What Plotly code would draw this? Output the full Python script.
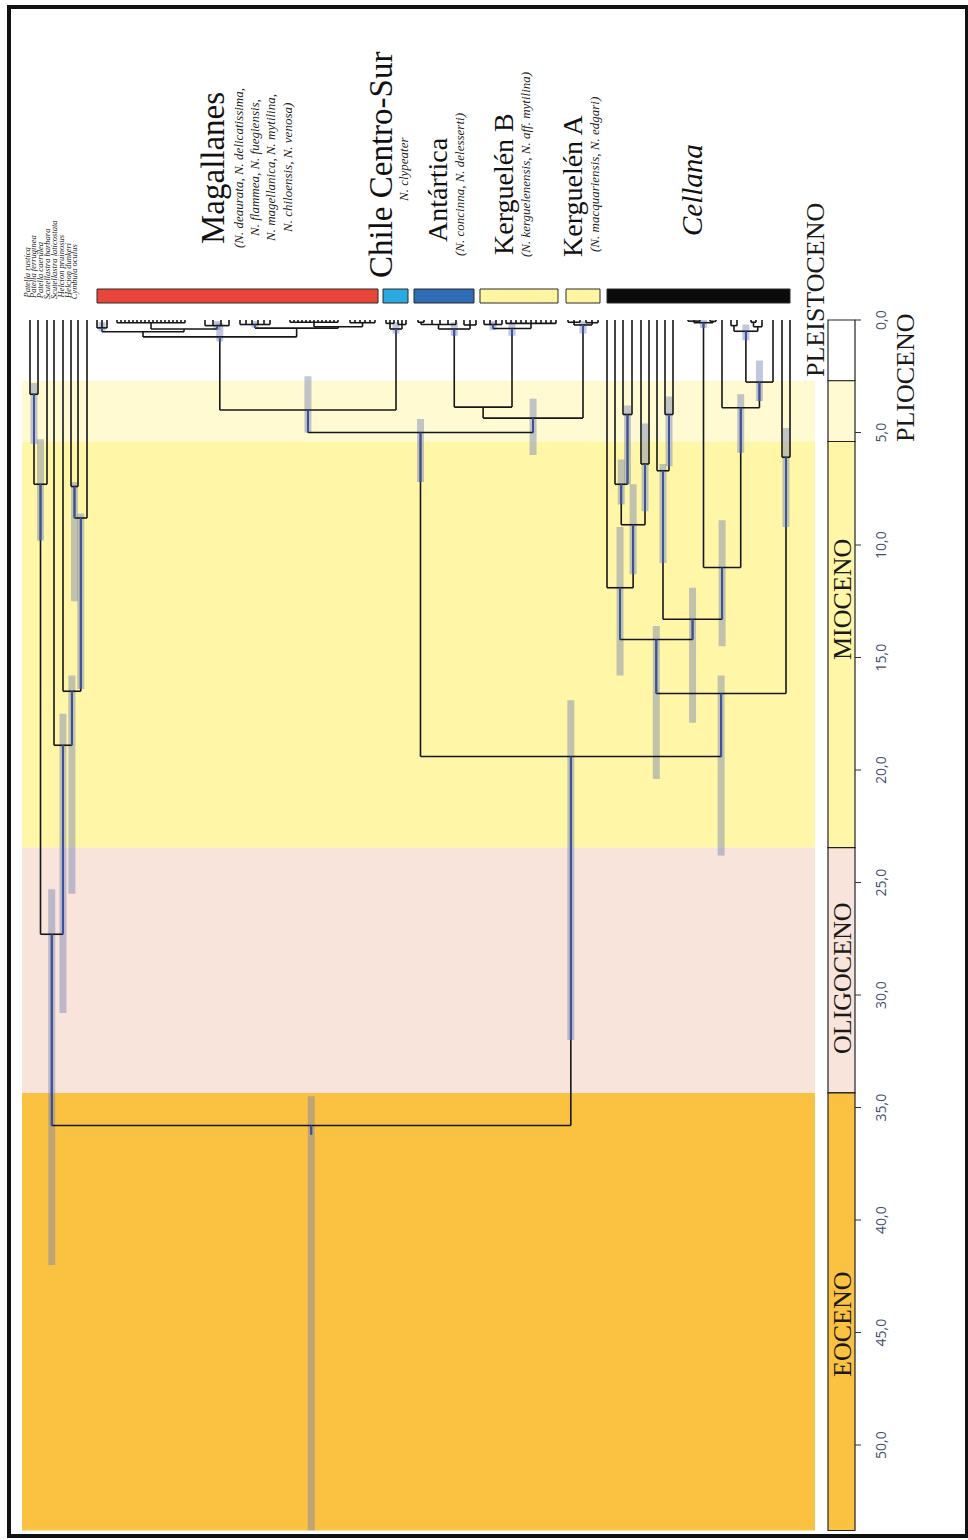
import plotly.graph_objects as go

# ---------------- layout helpers (pixel -> Ma) ----------------
PX0 = 320.0   # pixel row of 0 Ma
PXM = 22.5    # pixels per Ma
W, H = 968, 1540


def Y(py):
    return (py - PX0) / PXM


# ---------------- data ----------------
tick_values = [0, 5, 10, 15, 20, 25, 30, 35, 40, 45, 50]
tick_labels = ["0,0", "5,0", "10,0", "15,0", "20,0", "25,0", "30,0", "35,0", "40,0", "45,0", "50,0"]

epoch_names = ["PLEISTOCENO", "PLIOCENO", "MIOCENO", "OLIGOCENO", "EOCENO"]
epoch_start = [0.0, 2.7, 5.4, 23.45, 34.35]
epoch_end = [2.7, 5.4, 23.45, 34.35, 53.8]
epoch_fill = ["#FFFFFF", "#FFFAD2", "#FFF6A8", "#F8E4DB", "#FBC241"]

outgroup_names = ["Patella rustica", "Patella ferruginea", "Patella caerulea",
                  "Scutellastra barbara", "Scutellastra laticostata",
                  "Helcion pruinosus", "Helcion dunkeri", "Cymbula oculus"]

clade_names = ["Magallanes", "Chile Centro-Sur", "Antártica", "Kerguelén B", "Kerguelén A", "Cellana"]
clade_species = [
    ["(N. deaurata, N. delicatissima,", "N. flammea, N. fuegiensis,",
     "N. magellanica, N. mytilina,", "N. chiloensis, N. venosa)"],
    ["N. clypeater"],
    ["(N. concinna, N. delesserti)"],
    ["(N. kerguelenensis, N. aff. mytilina)"],
    ["(N. macquariensis, N. edgari)"],
    [],
]
clade_colors = ["#E8453B", "#2BAAE2", "#2E6DB5", "#FFF4A2", "#FFF4A2", "#0B0B0B"]
clade_tip_range = [(97, 378), (383, 408), (414, 474), (480, 558), (566, 600), (607, 790)]


# Tree: internal node = N(age_Ma, *children, hpd=(lo, hi)); a tip is its slot on the tip axis
def N(age, *kids, hpd=None):
    return {"age": age, "kids": list(kids), "hpd": hpd}


# outgroups (Patellidae)
og_A = N(3.3, 30, 38, hpd=(2.8, 5.5))
og_B = N(7.3, og_A, 47, hpd=(5.3, 9.8))
og_C = N(7.4, 71, 78, hpd=(7.2, 12.5))
og_D = N(8.8, og_C, 87, hpd=(8.6, 16.4))
og_E = N(16.5, 63, og_D, hpd=(15.8, 25.5))
og_F = N(18.9, 54, og_E, hpd=(17.5, 30.8))
og_G = N(27.3, og_B, og_F, hpd=(25.3, 42.0))

# Nacella
mag_La = N(0.35, 97, 102, 107, hpd=(0.1, 0.5))
mag_Lb = N(0.4, N(0.12, *range(117, 186, 4)), N(0.25, 205, 213, 221, 229, hpd=(0.05, 0.45)))
mag_L = N(0.52, mag_La, mag_Lb)
mag_Ra = N(0.2, 240, 246, 252, 258, 264, 270, hpd=(0.05, 0.35))
mag_Rb = N(0.3, N(0.1, *range(290, 341, 4)), N(0.12, 350, 355, 360, 365, 370, 375))
mag_R = N(0.36, mag_Ra, mag_Rb)
magallanes = N(0.75, mag_L, mag_R, hpd=(0.15, 0.95))
chile = N(0.4, N(0.15, 386, 390, 394), N(0.2, 398, 402, 406), hpd=(0.1, 0.6))
mag_chile = N(4.0, magallanes, chile, hpd=(2.5, 5.0))
antartica = N(0.4, N(0.2, N(0.1, 418, 424), 432, 440, 448, 456), N(0.22, 464, 470, 476), hpd=(0.1, 0.7))
kerg_B = N(0.38, N(0.2, 484, 490, 496, 502, hpd=(0.05, 0.45)), N(0.15, *range(506, 557, 5)), hpd=(0.15, 0.7))
ant_kB = N(3.87, antartica, kerg_B)
kerg_A = N(0.22, N(0.1, 568, 574, 580), N(0.12, 586, 592, 598), hpd=(0.05, 0.6))
ant_kAB = N(4.36, ant_kB, kerg_A, hpd=(3.5, 6.0))
nacella = N(5.0, mag_chile, ant_kAB, hpd=(4.4, 7.2))

# Cellana
c627 = N(4.2, 623, 632, hpd=(3.8, 7.3))
c621 = N(7.3, 615, c627, hpd=(6.2, 8.2))
c645 = N(6.4, 641, 649, hpd=(4.6, 8.5))
c633 = N(9.1, c621, c645, hpd=(7.3, 11.3))
c620 = N(11.9, 607, c633, hpd=(9.2, 15.8))
c669 = N(4.2, 665, 673, hpd=(3.4, 6.5))
c663 = N(6.7, 657, c669, hpd=(6.4, 10.8))
c703 = N(0.12, N(0.05, 688, 694, 700), N(0.06, 710, 716), hpd=(0.0, 0.35))
c745 = N(0.5, N(0.25, 731, 737), N(0.3, N(0.1, 751, 756), 762), hpd=(0.2, 0.9))
cP = N(2.76, c745, 773, hpd=(1.8, 3.6))
cQ = N(3.9, 722, cP, hpd=(3.3, 5.9))
cR2 = N(11.0, c703, cQ, hpd=(8.9, 14.5))
cR3 = N(13.3, c663, cR2, hpd=(11.9, 17.9))
cR4 = N(14.2, c620, cR3, hpd=(13.6, 20.4))
c786 = N(6.1, 782, 790, hpd=(4.8, 9.2))
cellana = N(16.6, cR4, c786, hpd=(15.8, 23.8))

ingroup = N(19.4, nacella, cellana, hpd=(16.9, 32.0))
root = N(35.8, og_G, ingroup, hpd=(34.5, 53.8))
ROOT_STUB = 0.4


# ---------------- tree layout (rectangular, time vertical) ----------------
def is_tip(n):
    return not isinstance(n, dict)


def place(n):
    if is_tip(n):
        return float(n)
    xs = [place(k) for k in n["kids"]]
    n["x"] = (xs[0] + xs[-1]) / 2.0
    return n["x"]


place(root)

seg_x, seg_y = [], []     # black branches
blu_x, blu_y = [], []     # branch parts lying inside an HPD bar
bars = []


def add_bar(n, parent_age):
    if n["hpd"]:
        lo, hi = n["hpd"]
        bars.append((n["x"], lo, hi))
        top = min(hi, parent_age)
        if top > n["age"]:
            blu_x.extend([n["x"], n["x"], None])
            blu_y.extend([n["age"], top, None])


def walk(n):
    kx = []
    for k in n["kids"]:
        if is_tip(k):
            x, a = float(k), 0.0
        else:
            x, a = k["x"], k["age"]
            walk(k)
            add_bar(k, n["age"])
        kx.append(x)
        seg_x.extend([x, x, None])
        seg_y.extend([a, n["age"], None])
    seg_x.extend([kx[0], kx[-1], None])
    seg_y.extend([n["age"], n["age"], None])


walk(root)
add_bar(root, root["age"] + ROOT_STUB)
seg_x.extend([root["x"], root["x"], None])
seg_y.extend([root["age"], root["age"] + ROOT_STUB, None])

fig = go.Figure()
shapes = []
annotations = []

SERIF = "Liberation Serif, DejaVu Serif, serif"

# background epoch bands behind the tree
for s, e, c in zip(epoch_start, epoch_end, epoch_fill):
    shapes.append(dict(type="rect", xref="x", yref="y", x0=22, x1=815, y0=s, y1=e,
                       fillcolor=c, line=dict(width=0), layer="below"))

# node age HPD bars (behind branches)
for x, lo, hi in bars:
    shapes.append(dict(type="rect", xref="x", yref="y", x0=x - 3.5, x1=x + 3.5, y0=lo, y1=hi,
                       fillcolor="rgba(118,130,178,0.45)", line=dict(width=0), layer="below"))

# branches
fig.add_trace(go.Scatter(x=seg_x, y=seg_y, mode="lines", hoverinfo="skip",
                         line=dict(color="#161616", width=1.6), showlegend=False))
fig.add_trace(go.Scatter(x=blu_x, y=blu_y, mode="lines", hoverinfo="skip",
                         line=dict(color="#3a52a2", width=2.0), showlegend=False))

# clade colour bars
for (a, b), c in zip(clade_tip_range, clade_colors):
    shapes.append(dict(type="rect", xref="x", yref="y", x0=a, x1=b, y0=Y(289), y1=Y(303),
                       fillcolor=c, line=dict(color="#2a2a2a", width=1), layer="above"))

# epoch column
for s, e, c in zip(epoch_start, epoch_end, epoch_fill):
    shapes.append(dict(type="rect", xref="x", yref="y", x0=828, x1=855, y0=s, y1=e,
                       fillcolor=c, line=dict(color="#222", width=1.2), layer="above"))

# ticks + tick labels
for v, t in zip(tick_values, tick_labels):
    shapes.append(dict(type="line", xref="x", yref="y", x0=855, x1=861, y0=v, y1=v,
                       line=dict(color="#333", width=1)))
    annotations.append(dict(x=880, y=v, xref="x", yref="y", text=t, showarrow=False,
                            textangle=-90, font=dict(family="Open Sans, sans-serif", size=14, color="#3f4d6e"),
                            xanchor="center", yanchor="middle"))

# epoch labels
epoch_label_pos = [(815, Y(290)), (905, Y(378)), (842, Y(600)), (842, Y(978)), (842, Y(1325))]
for name, (lx, ly) in zip(epoch_names, epoch_label_pos):
    annotations.append(dict(x=lx, y=ly, xref="x", yref="y", text=name, showarrow=False,
                            textangle=-90, font=dict(family=SERIF, size=26, color="#1a1a1a"),
                            xanchor="center", yanchor="middle"))

# outgroup tip labels
for i, name in enumerate(outgroup_names):
    annotations.append(dict(x=26 + i * 6.9, y=Y(301), xref="x", yref="y", text="<i>" + name + "</i>",
                            showarrow=False, textangle=-90,
                            font=dict(family=SERIF, size=8.5, color="#222"),
                            xanchor="center", yanchor="bottom"))

# clade labels
clade_label_pos = [(213, Y(168)), (381, Y(165)), (437, Y(190)), (503, Y(184)), (572, Y(186)), (692, Y(190))]
clade_label_size = [33, 33, 28, 28, 28, 29]
clade_sub_pos = [[(238, Y(168)), (254, Y(168)), (270, Y(168)), (287, Y(168))],
                 [(403, Y(170))], [(459, Y(185))], [(525, Y(165))], [(594, Y(175))], []]
for i, name in enumerate(clade_names):
    lx, ly = clade_label_pos[i]
    txt = "<i>" + name + "</i>" if name == "Cellana" else name
    annotations.append(dict(x=lx, y=ly, xref="x", yref="y", text=txt, showarrow=False,
                            textangle=-90, font=dict(family=SERIF, size=clade_label_size[i], color="#111"),
                            xanchor="center", yanchor="middle"))
    for line, (sx, sy) in zip(clade_species[i], clade_sub_pos[i]):
        annotations.append(dict(x=sx, y=sy, xref="x", yref="y", text="<i>" + line + "</i>",
                                showarrow=False, textangle=-90,
                                font=dict(family=SERIF, size=13, color="#222"),
                                xanchor="center", yanchor="middle"))

# outer frame
shapes.append(dict(type="rect", xref="x", yref="y", x0=9, x1=967, y0=Y(7), y1=Y(1536),
                   line=dict(color="#111", width=4), fillcolor="rgba(0,0,0,0)", layer="above"))

fig.update_layout(
    width=W, height=H,
    margin=dict(l=0, r=0, t=0, b=0),
    paper_bgcolor="white", plot_bgcolor="white",
    xaxis=dict(range=[0, W], visible=False, fixedrange=True),
    yaxis=dict(range=[Y(H), Y(0)], visible=False, fixedrange=True),
    shapes=shapes, annotations=annotations,
)

fig.write_html("out.html", config={"displayModeBar": False},
               post_script="document.body.style.margin='0';document.body.style.overflow='hidden';")
